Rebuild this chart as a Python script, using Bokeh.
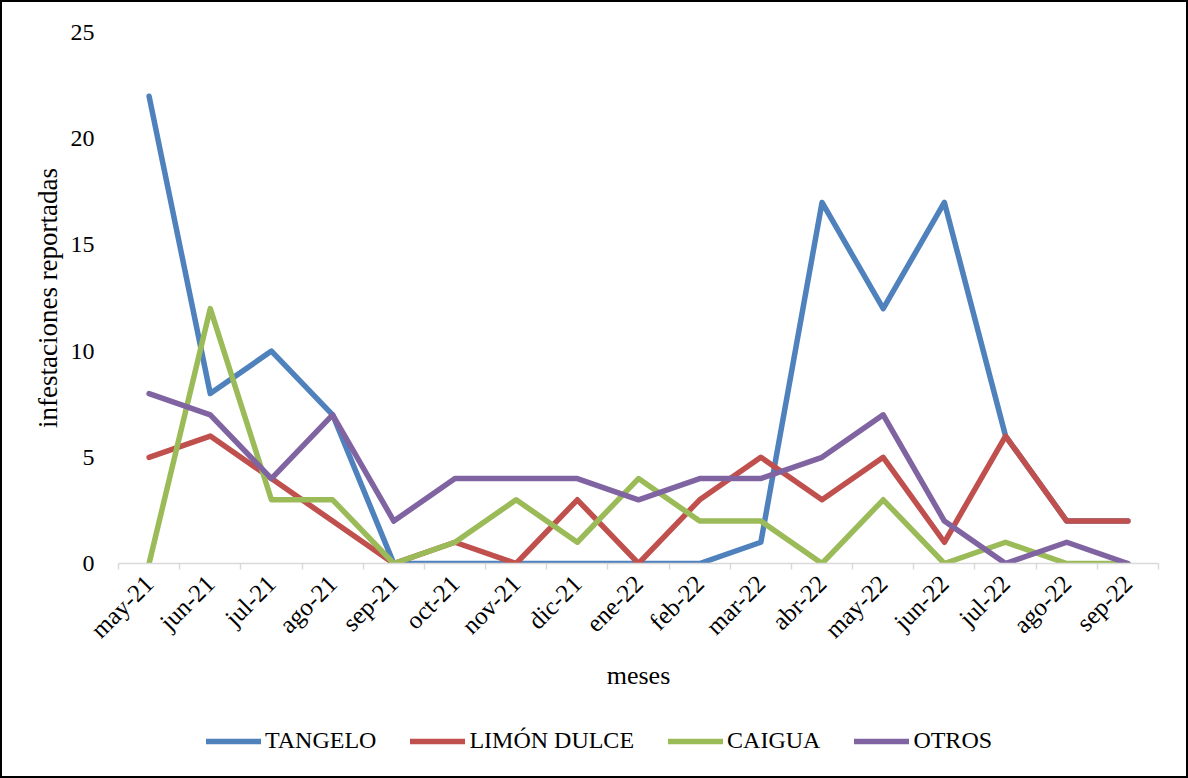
import math

from bokeh.plotting import figure
from bokeh.layouts import column
from bokeh.models import Range1d, FixedTicker, Legend, LegendItem, LinearAxis
from bokeh.embed import file_html
from bokeh.resources import INLINE

# Monthly reported infestations by host plant
meses = ["may-21", "jun-21", "jul-21", "ago-21", "sep-21", "oct-21", "nov-21",
         "dic-21", "ene-22", "feb-22", "mar-22", "abr-22", "may-22", "jun-22",
         "jul-22", "ago-22", "sep-22"]
tangelo = [22, 8, 10, 7, 0, 0, 0, 0, 0, 0, 1, 17, 12, 17, 6, 2, 2]
limon_dulce = [5, 6, 4, 2, 0, 1, 0, 3, 0, 3, 5, 3, 5, 1, 6, 2, 2]
caigua = [0, 12, 3, 3, 0, 1, 3, 1, 4, 2, 2, 0, 3, 0, 1, 0, 0]
otros = [8, 7, 4, 7, 2, 4, 4, 4, 3, 4, 4, 5, 7, 2, 0, 1, 0]
y_ticks = [0, 5, 10, 15, 20, 25]

series = [
    ("TANGELO", tangelo, "#4F81BD"),
    ("LIMÓN DULCE", limon_dulce, "#C0504D"),
    ("CAIGUA", caigua, "#9BBB59"),
    ("OTROS", otros, "#8064A2"),
]

FONT = "Liberation Serif"
LINE_W = 5.5
x = list(range(len(meses)))

W = 1184
H_CHART = 720
H_LEGEND = 54

p = figure(
    width=W, height=H_CHART,
    x_range=Range1d(-0.5, len(meses) - 0.5),
    y_range=Range1d(0, 25),
    output_backend="svg", toolbar_location=None,
    min_border_left=116, min_border_right=28,
    min_border_top=30, min_border_bottom=159,
    background_fill_color="white", border_fill_color="white",
)
p.outline_line_color = None
p.xgrid.visible = False
p.ygrid.visible = False

# category axis: labels at centres, tick marks at category boundaries
xa = p.xaxis[0]
xa.ticker = FixedTicker(ticks=x, minor_ticks=[i - 0.5 for i in range(len(meses) + 1)])
xa.major_label_overrides = {i: m for i, m in enumerate(meses)}
xa.major_label_orientation = math.pi / 4
xa.major_label_text_font = FONT
xa.major_label_text_font_size = "25px"
xa.major_label_text_color = "black"
xa.major_label_standoff = 10
xa.major_tick_line_color = None
xa.minor_tick_line_color = "#d9d9d9"
xa.minor_tick_line_width = 1.5
xa.minor_tick_in = 0
xa.minor_tick_out = 6
xa.axis_line_color = "#d9d9d9"
xa.axis_line_width = 1.5
xa.axis_label = "meses"
xa.axis_label_text_font = FONT
xa.axis_label_text_font_size = "26px"
xa.axis_label_text_font_style = "normal"
xa.axis_label_text_color = "black"
xa.axis_label_standoff = 5

ya = p.yaxis[0]
ya.ticker = FixedTicker(ticks=y_ticks)
ya.major_label_text_font = FONT
ya.major_label_text_font_size = "24px"
ya.major_label_text_color = "black"
ya.major_label_standoff = 18
ya.axis_line_color = None
ya.major_tick_line_color = None
ya.minor_tick_line_color = None

# value-axis title sits on a bare outer axis whose extent sets its centre
title_axis = LinearAxis(
    ticker=FixedTicker(ticks=[]), bounds=(0, 13.2),
    axis_line_color=None, major_tick_line_color=None, minor_tick_line_color=None,
    major_label_standoff=0,
    axis_label="infestaciones reportadas", axis_label_text_font=FONT,
    axis_label_text_font_size="27px", axis_label_text_font_style="normal",
    axis_label_text_color="black", axis_label_standoff=5,
)
p.add_layout(title_axis, "left")

for name, vals, color in series:
    p.line(x, vals, line_color=color, line_width=LINE_W,
           line_join="round", line_cap="round")

# legend strip under the chart; its renderers stay hidden, only the key shows
lg = figure(
    width=W, height=H_LEGEND,
    x_range=Range1d(0, 1), y_range=Range1d(0, 1),
    x_axis_type=None, y_axis_type=None,
    output_backend="svg", toolbar_location=None,
    min_border=0, min_border_left=0, min_border_right=0,
    min_border_top=0, min_border_bottom=0,
    background_fill_color="white", border_fill_color="white",
)
lg.outline_line_color = None
lg.xgrid.visible = False
lg.ygrid.visible = False

items = []
for name, vals, color in series:
    r = lg.line(x, vals, line_color=color, line_width=LINE_W, line_cap="round",
                visible=False)
    items.append(LegendItem(label=name, renderers=[r]))

legend = Legend(
    items=items, orientation="horizontal", location=(88, 22),
    label_text_font=FONT, label_text_font_size="24px", label_text_color="black",
    glyph_width=55, glyph_height=22, label_standoff=4, spacing=34,
    padding=0, margin=0, border_line_color=None, background_fill_alpha=0,
    inactive_fill_alpha=0, click_policy="none",
)
lg.add_layout(legend, "center")

page = column(p, lg, spacing=0, styles={"border": "2px solid black"})

open("out.html", "w").write(file_html(page, INLINE))
